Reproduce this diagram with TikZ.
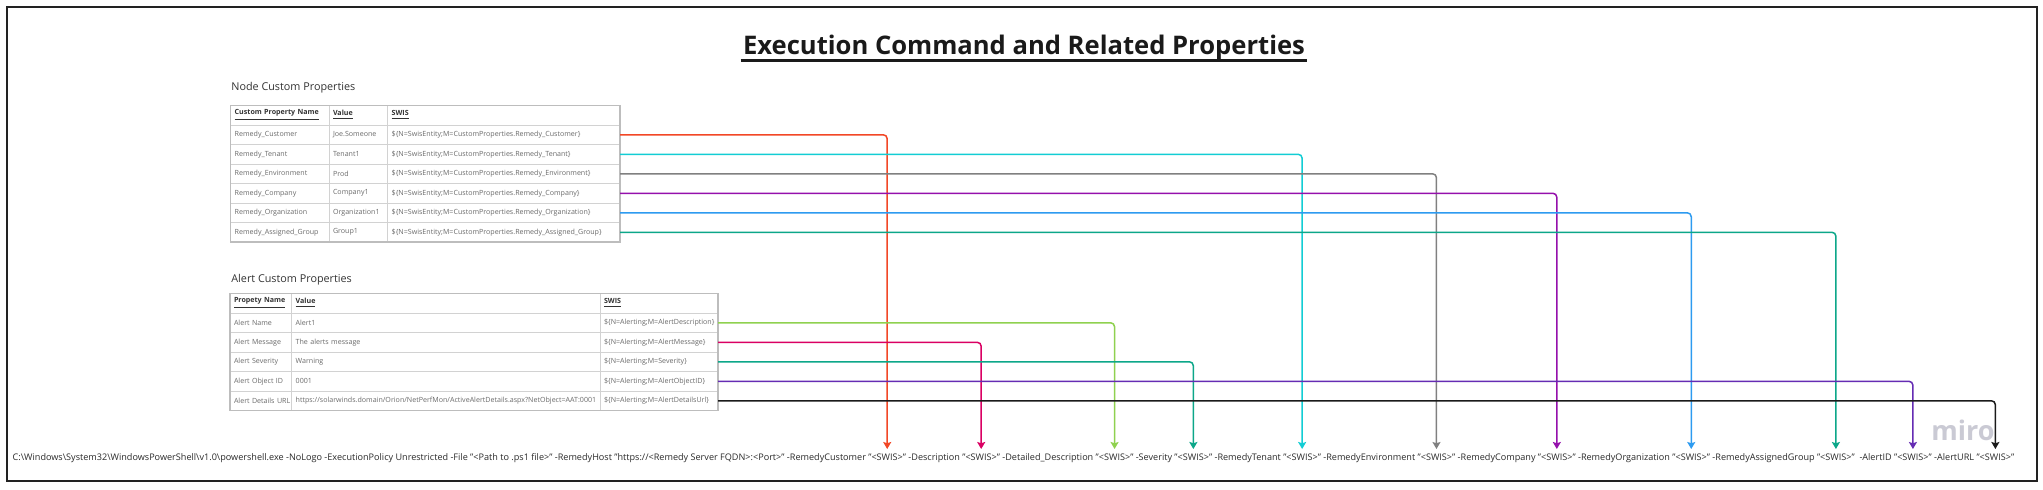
\documentclass[tikz,border=0pt]{standalone}
\usepackage{fontspec}
\setmainfont{Open Sans}
\usetikzlibrary{arrows.meta}
\definecolor{cRed}{HTML}{F24726}
\definecolor{cCyan}{HTML}{12CDD4}
\definecolor{cGray}{HTML}{808080}
\definecolor{cPurple}{HTML}{9510AC}
\definecolor{cBlue}{HTML}{2D9BF0}
\definecolor{cGreen}{HTML}{0CA789}
\definecolor{cLime}{HTML}{8FD14F}
\definecolor{cMagenta}{HTML}{DA0063}
\definecolor{cViolet}{HTML}{652CB3}
\definecolor{cBlack}{HTML}{1A1A1A}
\definecolor{frameC}{HTML}{222222}
\definecolor{gridC}{HTML}{D2D2D2}
\definecolor{outerC}{HTML}{BDBDBD}
\definecolor{bodyC}{HTML}{6A6A6A}
\definecolor{hdrC}{HTML}{333333}
\definecolor{cmdC}{HTML}{2A2A2A}
\definecolor{miroC}{HTML}{CACAD4}
\newcommand\rkTitle{\fontsize{12.8}{14}\selectfont\bfseries}
\newcommand\rkSec{\fontsize{5.4}{6}\selectfont}
\newcommand\rkCell{\fontsize{3.55}{4.2}\selectfont}
\newcommand\rkCmd{\fontsize{4.55}{5.2}\selectfont}
\newcommand\rkMiro{\fontsize{13.5}{15}\selectfont\bfseries}
\begin{document}
\begin{tikzpicture}[x=0.5pt,y=-0.5pt,
  frame/.style={draw=frameC, line width=1.25pt},
  cell/.style={draw=gridC, line width=0.5pt, anchor=north west, inner xsep=2pt, inner ysep=0pt, outer sep=0pt, minimum height=9.75pt, align=left, font=\rkCell, text=bodyC},
  hdr/.style={cell, text=hdrC, font=\rkCell\bfseries},
  ncA/.style={text width=45.15pt},
  ncB/.style={text width=25.35pt},
  ncC/.style={text width=112.15pt},
  acA/.style={text width=26.85pt},
  acB/.style={text width=150.15pt},
  acC/.style={text width=55pt},
  sec/.style={anchor=west, inner sep=0pt, font=\rkSec, text=hdrC},
  seg/.style={inner xsep=0pt, inner ysep=2.2pt, outer sep=0pt, anchor=base west, font=\rkCmd, text=cmdC},
  conn/.style={line width=0.75pt, rounded corners=2pt, -{Stealth[length=3.5pt,width=4pt,inset=0.6pt]}}
]
\useasboundingbox (0,0) rectangle (2043,489);
\fill[white] (0,0) rectangle (2043,489);
\draw[frame] (7,7) rectangle (2037,481);

% title
\node[font=\rkTitle, text=cBlack, anchor=base, inner xsep=1pt, inner ysep=0pt] (title) at (1024,54) {Execution Command and Related Properties};
\draw[line width=1.25pt, cBlack] (title.west |- {(0,60.5)}) -- (title.east |- {(0,60.5)});

% node custom properties
\node[sec] (nsec) at (231,88) {Node Custom Properties};
\node[hdr,ncA] (nh1) at (230.7,105.5) {\underline{Custom Property Name}};
\node[hdr,ncB] (nh2) at (329,105.5) {\underline{Value}};
\node[hdr,ncC] (nh3) at (387.7,105.5) {\underline{SWIS}};
\node[cell,ncA] (na1) at (230.7,125) {Remedy\_Customer};
\node[cell,ncB] (nb1) at (329,125) {Joe.Someone};
\node[cell,ncC] (nc1) at (387.7,125) {\$\{N=SwisEntity;M=CustomProperties.Remedy\_Customer\}};
\node[cell,ncA] (na2) at (230.7,144.5) {Remedy\_Tenant};
\node[cell,ncB] (nb2) at (329,144.5) {Tenant1};
\node[cell,ncC] (nc2) at (387.7,144.5) {\$\{N=SwisEntity;M=CustomProperties.Remedy\_Tenant\}};
\node[cell,ncA] (na3) at (230.7,164) {Remedy\_Environment};
\node[cell,ncB] (nb3) at (329,164) {Prod};
\node[cell,ncC] (nc3) at (387.7,164) {\$\{N=SwisEntity;M=CustomProperties.Remedy\_Environment\}};
\node[cell,ncA] (na4) at (230.7,183.5) {Remedy\_Company};
\node[cell,ncB] (nb4) at (329,183.5) {Company1};
\node[cell,ncC] (nc4) at (387.7,183.5) {\$\{N=SwisEntity;M=CustomProperties.Remedy\_Company\}};
\node[cell,ncA] (na5) at (230.7,203) {Remedy\_Organization};
\node[cell,ncB] (nb5) at (329,203) {\mbox{Organization1}};
\node[cell,ncC] (nc5) at (387.7,203) {\$\{N=SwisEntity;M=CustomProperties.Remedy\_Organization\}};
\node[cell,ncA] (na6) at (230.7,222.5) {\mbox{Remedy\_Assigned\_Group}};
\node[cell,ncB] (nb6) at (329,222.5) {Group1};
\node[cell,ncC] (nc6) at (387.7,222.5) {\mbox{\$\{N=SwisEntity;M=CustomProperties.Remedy\_Assigned\_Group\}}};
\draw[outerC, line width=0.6pt] (nh1.north west) rectangle (nc6.south east);

% alert custom properties
\node[sec] (asec) at (231,280) {Alert Custom Properties};
\node[hdr,acA] (ah1) at (230,293.5) {\mbox{\underline{Propety Name}}};
\node[hdr,acB] (ah2) at (291.7,293.5) {\underline{Value}};
\node[hdr,acC] (ah3) at (600,293.5) {\underline{SWIS}};
\node[cell,acA] (aa1) at (230,313) {Alert Name};
\node[cell,acB] (ab1) at (291.7,313) {Alert1};
\node[cell,acC] (ac1) at (600,313) {\mbox{\$\{N=Alerting;M=AlertDescription\}}};
\node[cell,acA] (aa2) at (230,332.5) {\mbox{Alert Message}};
\node[cell,acB] (ab2) at (291.7,332.5) {The alerts message};
\node[cell,acC] (ac2) at (600,332.5) {\$\{N=Alerting;M=AlertMessage\}};
\node[cell,acA] (aa3) at (230,352) {\mbox{Alert Severity}};
\node[cell,acB] (ab3) at (291.7,352) {Warning};
\node[cell,acC] (ac3) at (600,352) {\$\{N=Alerting;M=Severity\}};
\node[cell,acA] (aa4) at (230,371.5) {\mbox{Alert Object ID}};
\node[cell,acB] (ab4) at (291.7,371.5) {0001};
\node[cell,acC] (ac4) at (600,371.5) {\$\{N=Alerting;M=AlertObjectID\}};
\node[cell,acA] (aa5) at (230,391) {\mbox{Alert Details URL}};
\node[cell,acB] (ab5) at (291.7,391) {\mbox{https://solarwinds.domain/Orion/NetPerfMon/ActiveAlertDetails.aspx?NetObject=AAT:0001}};
\node[cell,acC] (ac5) at (600,391) {\$\{N=Alerting;M=AlertDetailsUrl\}};
\draw[outerC, line width=0.6pt] (ah1.north west) rectangle (ac5.south east);

% command line
\node[seg] (s0) at (12.7,460) {C:\textbackslash Windows\textbackslash System32\textbackslash WindowsPowerShell\textbackslash v1.0\textbackslash powershell.exe -NoLogo -ExecutionPolicy Unrestricted -File "<Path to .ps1 file>" -RemedyHost "https://<Remedy Server FQDN>:<Port>" -RemedyCustomer "};
\node[seg] (w1) at (s0.base east) {<SWIS>};
\node[seg] (s1) at (w1.base east) {" -Description "};
\node[seg] (w2) at (s1.base east) {<SWIS>};
\node[seg] (s2) at (w2.base east) {" -Detailed\_Description "};
\node[seg] (w3) at (s2.base east) {<SWIS>};
\node[seg] (s3) at (w3.base east) {" -Severity "};
\node[seg] (w4) at (s3.base east) {<SWIS>};
\node[seg] (s4) at (w4.base east) {" -RemedyTenant "};
\node[seg] (w5) at (s4.base east) {<SWIS>};
\node[seg] (s5) at (w5.base east) {" -RemedyEnvironment "};
\node[seg] (w6) at (s5.base east) {<SWIS>};
\node[seg] (s6) at (w6.base east) {" -RemedyCompany "};
\node[seg] (w7) at (s6.base east) {<SWIS>};
\node[seg] (s7) at (w7.base east) {" -RemedyOrganization "};
\node[seg] (w8) at (s7.base east) {<SWIS>};
\node[seg] (s8) at (w8.base east) {" -RemedyAssignedGroup "};
\node[seg] (w9) at (s8.base east) {<SWIS>};
\node[seg] (s9) at (w9.base east) {"\ \ -AlertID "};
\node[seg] (w10) at (s9.base east) {<SWIS>};
\node[seg] (s10) at (w10.base east) {" -AlertURL "};
\node[seg] (w11) at (s10.base east) {<SWIS>};
\node[seg] (s11) at (w11.base east) {"};

% watermark
\node[font=\rkMiro, text=miroC, anchor=base west, inner sep=0pt] (miro) at (1931,440) {miro};

% connectors
\draw[conn, cRed] (nc1.east) -| (w1.north);
\draw[conn, cCyan] (nc2.east) -| (w5.north);
\draw[conn, cGray] (nc3.east) -| (w6.north);
\draw[conn, cPurple] (nc4.east) -| (w7.north);
\draw[conn, cBlue] (nc5.east) -| (w8.north);
\draw[conn, cGreen] (nc6.east) -| (w9.north);
\draw[conn, cLime] (ac1.east) -| (w3.north);
\draw[conn, cMagenta] (ac2.east) -| (w2.north);
\draw[conn, cGreen] (ac3.east) -| (w4.north);
\draw[conn, cViolet] (ac4.east) -| (w10.north);
\draw[conn, cBlack] (ac5.east) -| (w11.north);
\end{tikzpicture}
\end{document}
